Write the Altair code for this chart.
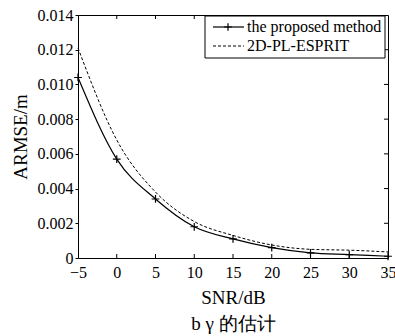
import altair as alt
import pandas as pd

snr = [-5, 0, 5, 10, 15, 20, 25, 30, 35]
proposed = [0.0104, 0.0057, 0.0034, 0.0018, 0.0011, 0.0006, 0.0003, 0.0002, 0.0001]
esprit = [0.0121, 0.0068, 0.0038, 0.0021, 0.0013, 0.00075, 0.0005, 0.00045, 0.00035]
series_names = ["the proposed method", "2D-PL-ESPRIT"]
x_ticks = [-5, 0, 5, 10, 15, 20, 25, 30, 35]
y_ticks = [0, 0.002, 0.004, 0.006, 0.008, 0.010, 0.012, 0.014]

W, H = 310, 243
SERIF = "Liberation Serif"

df_p = pd.DataFrame({"snr": snr, "val": proposed})
df_e = pd.DataFrame({"snr": snr, "val": esprit})

xs = alt.Scale(domain=[-5, 35], nice=False, zero=False)
ys = alt.Scale(domain=[0, 0.014], nice=False)

x_axis = alt.Axis(values=x_ticks, ticks=False, labelFontSize=16,
                  labelColor="black", labelPadding=6, domain=False, grid=False,
                  title=["SNR/dB", "b γ 的估计"], titleFontSize=19,
                  titleFontWeight="normal", titleColor="black", titlePadding=8,
                  titleLineHeight=26, labelFlush=False)
y_axis = alt.Axis(values=y_ticks, ticks=True, tickSize=3, tickColor="black",
                  labelFontSize=16, labelColor="black",
                  labelPadding=2, domain=False, grid=False,
                  labelExpr="datum.value == 0 ? '0' : format(datum.value, '.3f')",
                  title="ARMSE/m", titleFontSize=19,
                  titleFontWeight="normal", titleColor="black", titlePadding=7)

X = alt.X("snr:Q", scale=xs, axis=x_axis)
Y = alt.Y("val:Q", scale=ys, axis=y_axis)

esp_line = alt.Chart(df_e).mark_line(color="black", strokeWidth=1, strokeDash=[3, 2],
                                     interpolate="monotone").encode(x=X, y=Y)
prop_line = alt.Chart(df_p).mark_line(color="black", strokeWidth=1.2,
                                      interpolate="monotone").encode(x=X, y=Y)
plus = "M-1,0L1,0M0,-1L0,1"
prop_pts = alt.Chart(df_p).mark_point(shape=plus, size=60, stroke="black",
                                      strokeWidth=1.2, filled=False, opacity=1).encode(x=X, y=Y)

# inward ticks on bottom, top and right
xt_df = pd.DataFrame({"snr": x_ticks[1:-1]})
yt_df = pd.DataFrame({"val": y_ticks[1:-1]})
bot_ticks = alt.Chart(xt_df).mark_rule(color="black", strokeWidth=1).encode(
    x=X, y=alt.value(H), y2=alt.value(H - 4))
top_ticks = alt.Chart(xt_df).mark_rule(color="black", strokeWidth=1).encode(
    x=X, y=alt.value(0), y2=alt.value(4))
right_ticks = alt.Chart(yt_df).mark_rule(color="black", strokeWidth=1).encode(
    y=Y, x=alt.value(W), x2=alt.value(W - 4))

# legend
one = pd.DataFrame({"k": [0]})
leg_box = alt.Chart(one).mark_rect(fill="white", stroke="black", strokeWidth=1).encode(
    x=alt.value(127), x2=alt.value(307), y=alt.value(1), y2=alt.value(43))
leg_l1 = alt.Chart(one).mark_rule(color="black", strokeWidth=1.2).encode(
    x=alt.value(135), x2=alt.value(166), y=alt.value(12))
leg_p1 = alt.Chart(one).mark_point(shape=plus, size=60, stroke="black",
                                    strokeWidth=1.2, filled=False, opacity=1).encode(
    x=alt.value(150), y=alt.value(12))
leg_l2 = alt.Chart(one).mark_rule(color="black", strokeWidth=1, strokeDash=[3, 2]).encode(
    x=alt.value(135), x2=alt.value(166), y=alt.value(31))
leg_t1 = alt.Chart(one).mark_text(align="left", baseline="middle", font=SERIF,
                                   fontSize=16, color="black").encode(
    x=alt.value(169), y=alt.value(12), text=alt.value(series_names[0]))
leg_t2 = alt.Chart(one).mark_text(align="left", baseline="middle", font=SERIF,
                                   fontSize=16, color="black").encode(
    x=alt.value(169), y=alt.value(31), text=alt.value(series_names[1]))

chart = alt.layer(
    esp_line, prop_line, prop_pts, bot_ticks, top_ticks, right_ticks,
    leg_box, leg_l1, leg_p1, leg_l2, leg_t1, leg_t2,
).properties(
    width=W, height=H,
    autosize=alt.AutoSizeParams(type="none"),
    padding={"left": 78, "top": 15, "right": 7, "bottom": 78},
    background="white",
).configure(
    font=SERIF
).configure_axis(
    labelFont=SERIF, titleFont=SERIF
).configure_view(stroke="black", strokeWidth=1)

chart.save("out.html", embed_options={"renderer": "svg", "actions": False})
